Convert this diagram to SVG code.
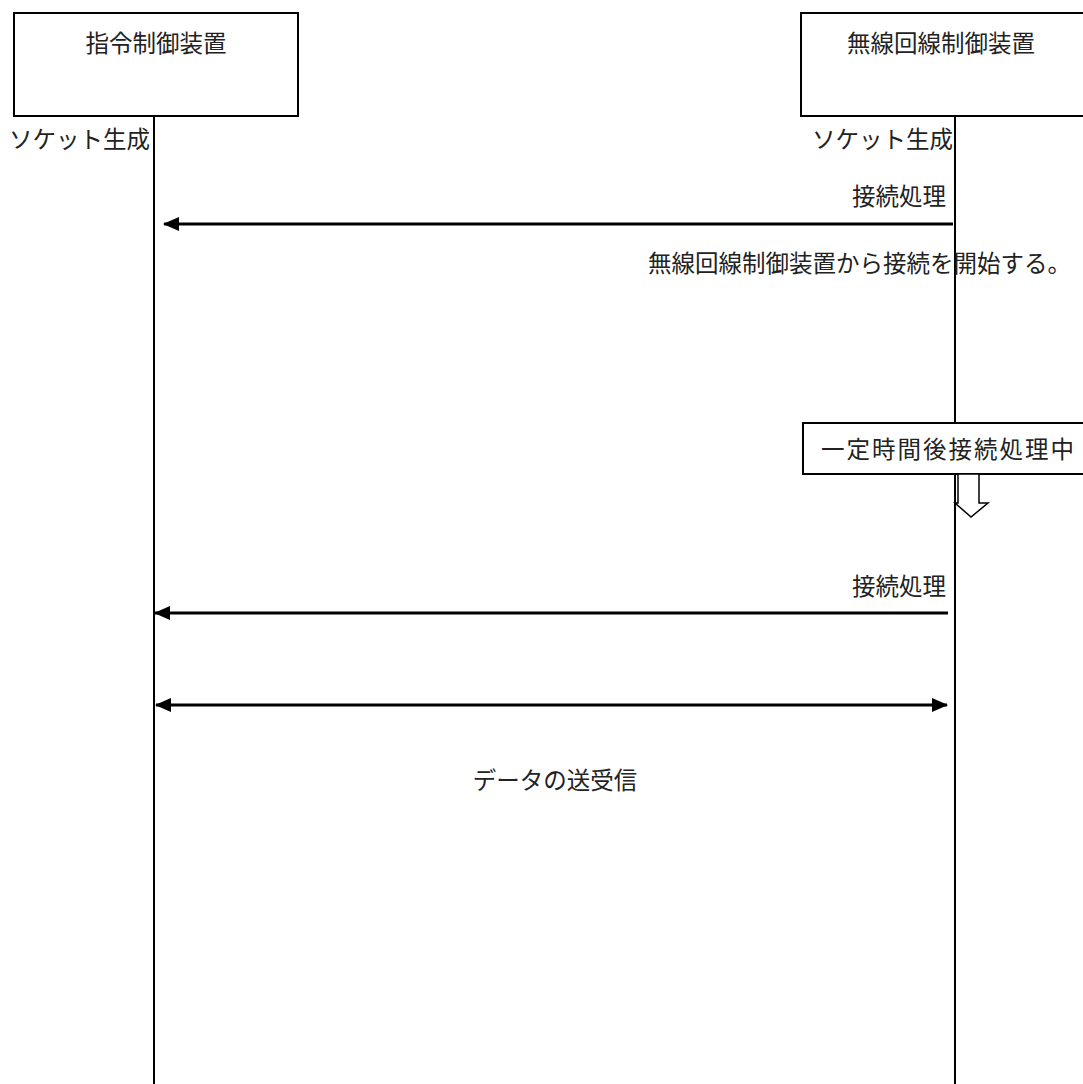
<svg xmlns="http://www.w3.org/2000/svg" width="1083" height="1084" viewBox="0 0 1083 1084">
<defs>
<style>
.box{fill:#fff;stroke:#000;stroke-width:2}
.life{stroke:#000;stroke-width:2;fill:none}
.msg{stroke:#000;stroke-width:3;fill:none}
text{font-family:"Liberation Serif","Noto Sans CJK JP",serif;font-size:23.5px;fill:#222}
</style>
<marker id="ah" viewBox="0 0 16 14" refX="15" refY="7" markerWidth="16" markerHeight="14" markerUnits="userSpaceOnUse" orient="auto-start-reverse">
<path d="M0,0 L16,7 L0,14 Z" fill="#000"/>
</marker>
</defs>
<rect width="1083" height="1084" fill="#fff"/>
<g id="lifelines">
<line class="life" x1="154" y1="116" x2="154" y2="1084"/>
<line class="life" x1="955" y1="116" x2="955" y2="1084"/>
</g>
<g id="node-shirei">
<rect class="box" x="14" y="13" width="284" height="103"/>
<text x="156" y="52" text-anchor="middle">指令制御装置</text>
</g>
<g id="node-musen">
<rect class="box" x="801" y="13" width="290" height="103"/>
<text x="941" y="52" text-anchor="middle">無線回線制御装置</text>
</g>
<g id="socket-left"><text x="150" y="148" text-anchor="end">ソケット生成</text></g>
<g id="socket-right"><text x="953" y="148" text-anchor="end">ソケット生成</text></g>
<g id="connectors">
<line class="msg" x1="953" y1="224" x2="164" y2="224" marker-end="url(#ah)"/>
<line class="msg" x1="948" y1="613" x2="155" y2="613" marker-end="url(#ah)"/>
<line class="msg" x1="156" y1="705" x2="947" y2="705" marker-start="url(#ah)" marker-end="url(#ah)"/>
</g>
<g id="label-conn1"><text x="946" y="205" text-anchor="end">接続処理</text></g>
<g id="note-start"><text x="648" y="272">無線回線制御装置から接続を開始する。</text></g>
<g id="node-wait">
<rect class="box" x="803" y="423" width="290" height="51"/>
<text x="821" y="458" letter-spacing="2">一定時間後接続処理中</text>
</g>
<g id="hollow-arrow">
<path d="M958,474 L979,474 L979,503 L988,503 L971,517 L955,503 L958,503 Z" fill="#fff" stroke="#000" stroke-width="1.5"/>
</g>
<g id="label-conn2"><text x="946" y="595" text-anchor="end">接続処理</text></g>
<g id="label-data"><text x="555" y="789" text-anchor="middle">データの送受信</text></g>
</svg>
